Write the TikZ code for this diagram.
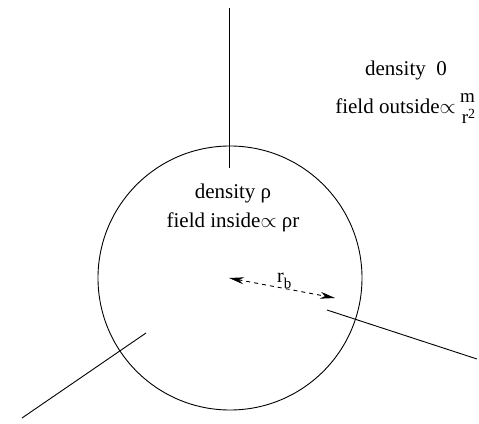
\documentclass[tikz,border=0pt]{standalone}
\usepackage{fontspec}
\setmainfont{Liberation Serif}
\usetikzlibrary{arrows.meta}
\begin{document}
\begin{tikzpicture}[x=1pt,y=-1pt,
  lbl/.style={inner sep=0pt,font=\fontsize{21}{24}\selectfont},
  thin line/.style={line width=0.9pt},
  radarrow/.style={line width=0.9pt,dash pattern=on 4pt off 4pt,{Stealth[length=15pt,width=7pt]}-{Stealth[length=15pt,width=7pt]}}]
\useasboundingbox (0,0) rectangle (479,423);
\node[draw,circle,thin line,minimum size=264pt,inner sep=0pt] (c) at (230,278) {};
% lines
\coordinate (v1) at (229.5,8);
\coordinate (v2) at (229.5,168);
\coordinate (a1) at (327,310);
\coordinate (a2) at (477,359);
\coordinate (b1) at (146,333);
\coordinate (b2) at (22,418);
\draw[thin line] (v1) -- (v2);
\draw[thin line] (a1) -- (a2);
\draw[thin line] (b1) -- (b2);
% radius arrow
\coordinate (r0) at (229,278);
\coordinate (r1) at (335,298);
\draw[radarrow] (r0) -- (r1);
\node[lbl,anchor=base west,font=\fontsize{20}{24}\selectfont] (rb) at (277,282) {r\raisebox{-0.3em}{\fontsize{15}{18}\selectfont b}};
% texts outside
\node[lbl,anchor=base] (d0) at (406,75) {density\ \ 0};
\node[lbl,anchor=base east] (fo) at (456,113) {field outside$\propto$};
\node[lbl,anchor=base,font=\fontsize{19}{22}\selectfont] (m) at (467.5,102) {m};
\node[lbl,anchor=base,font=\fontsize{19}{22}\selectfont] (r2) at (468.5,123) {r\raisebox{0.22em}{\fontsize{14}{16}\selectfont 2}};
% texts inside
\node[lbl,anchor=base] (dr) at (233,198) {density ρ};
\node[lbl,anchor=base] (fi) at (233,227) {field inside$\propto$\ ρr};
\end{tikzpicture}
\end{document}
